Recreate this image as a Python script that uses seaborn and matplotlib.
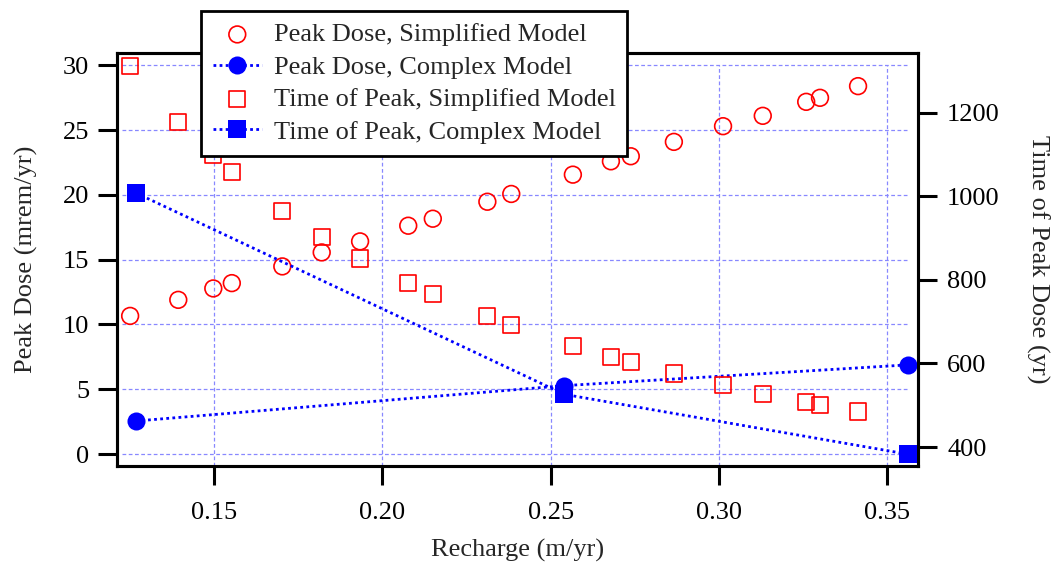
import numpy as np
import pandas as pd
import matplotlib
matplotlib.use("Agg")
import matplotlib.pyplot as plt
import seaborn as sns

# Recharge rates (m/yr) for the simplified-model runs
recharge_simple = [0.1251, 0.1394, 0.1498, 0.1553, 0.1703, 0.1820, 0.1934,
                   0.2077, 0.2150, 0.2312, 0.2383, 0.2566, 0.2679, 0.2738,
                   0.2866, 0.3012, 0.3130, 0.3259, 0.3300, 0.3413]
# Peak dose (mrem/yr), simplified model
dose_simple = [10.66, 11.90, 12.78, 13.19, 14.48, 15.56, 16.41,
               17.62, 18.16, 19.47, 20.07, 21.56, 22.59, 22.98,
               24.09, 25.30, 26.10, 27.18, 27.49, 28.39]
# Time of peak dose (yr), simplified model
time_simple = [1312, 1177, 1099, 1059, 965, 903, 851,
               792, 766, 713, 691, 642, 615, 603,
               576, 548, 527, 507, 500, 485]

# Complex-model runs
recharge_complex = [0.1268, 0.2541, 0.3560]
dose_complex = [2.55, 5.28, 6.88]
time_complex = [1008, 526, 383]

x_ticks = [0.15, 0.20, 0.25, 0.30, 0.35]
x_tick_labels = ["0.15", "0.20", "0.25", "0.30", "0.35"]
dose_ticks = [0, 5, 10, 15, 20, 25, 30]
time_ticks = [400, 600, 800, 1000, 1200]

simple = pd.DataFrame({"recharge": recharge_simple, "dose": dose_simple,
                       "time": time_simple})
complex_ = pd.DataFrame({"recharge": recharge_complex, "dose": dose_complex,
                         "time": time_complex})

sns.set_style("white")
plt.rcParams["font.family"] = ["Liberation Serif", "DejaVu Serif"]

RED = "#ff0000"
BLUE = "#0000ff"
GRID = "#8888ff"
FS = 19

fig = plt.figure(figsize=(10.56, 5.63), dpi=100)
ax = fig.add_axes([0.1108, 0.1728, 0.8693 - 0.1108, 0.905 - 0.1728])
ax2 = ax.twinx()

xlim = (0.1212, 0.3591)
ylim_dose = (-0.90, 30.91)
ylim_time = (355.3, 1341.7)

# grid spanning the data region
ax.hlines(dose_ticks, xlim[0] + 0.0015, max(recharge_complex), colors=GRID,
          linestyles=(0, (3, 2)), linewidth=0.9, zorder=0)
ax.vlines(x_ticks, ylim_dose[0], max(dose_ticks), colors=GRID,
          linestyles=(0, (3, 2)), linewidth=0.9, zorder=0)

dotted = (0, (1, 1.2))

sns.scatterplot(data=simple, x="recharge", y="dose", ax=ax, marker="o",
                s=145, facecolor="none", edgecolor=RED, linewidth=1.2,
                label="Peak Dose, Simplified Model", legend=False, zorder=3)
sns.lineplot(data=complex_, x="recharge", y="dose", ax=ax, color=BLUE,
             linestyle=dotted, linewidth=2.0, marker="o", markersize=13,
             markeredgewidth=0, label="Peak Dose, Complex Model",
             legend=False, zorder=4)
sns.scatterplot(data=simple, x="recharge", y="time", ax=ax2, marker="s",
                s=135, facecolor="none", edgecolor=RED, linewidth=1.2,
                label="Time of Peak, Simplified Model", legend=False, zorder=3)
sns.lineplot(data=complex_, x="recharge", y="time", ax=ax2, color=BLUE,
             linestyle=dotted, linewidth=2.0, marker="s", markersize=12.5,
             markeredgewidth=0, label="Time of Peak, Complex Model",
             legend=False, zorder=4)

for a in (ax, ax2):
    if a.get_legend() is not None:
        a.get_legend().remove()

ax.set_xlim(*xlim)
ax.set_ylim(*ylim_dose)
ax2.set_ylim(*ylim_time)

ax.set_xticks(x_ticks)
ax.set_xticklabels(x_tick_labels)
ax.set_yticks(dose_ticks)
ax2.set_yticks(time_ticks)

tick_kw = dict(direction="out", length=14, width=2.2, colors="black",
               labelsize=FS)
ax.tick_params(axis="x", bottom=True, top=False, pad=12, **tick_kw)
ax.tick_params(axis="y", left=True, right=False, pad=6, **tick_kw)
ax2.tick_params(axis="y", left=False, right=True, pad=7, **tick_kw)

for a in (ax, ax2):
    for sp in a.spines.values():
        sp.set_visible(True)
        sp.set_color("black")
        sp.set_linewidth(2.2)

ax.set_xlabel("Recharge (m/yr)", fontsize=FS, labelpad=11)
ax.set_ylabel("Peak Dose (mrem/yr)", fontsize=FS, labelpad=18)
ax2.set_ylabel("Time of Peak Dose (yr)", fontsize=FS, rotation=270,
               labelpad=36)

h1, l1 = ax.get_legend_handles_labels()
h2, l2 = ax2.get_legend_handles_labels()
leg = fig.legend(h1 + h2, l1 + l2, loc="upper left",
                 bbox_to_anchor=(201 / 1056, 1 - 11 / 563),
                 fontsize=FS, frameon=True, fancybox=False, shadow=False,
                 handlelength=1.85, handletextpad=0.45, labelspacing=0.34,
                 borderpad=0.45, borderaxespad=0.0, scatterpoints=1)
leg.get_frame().set_edgecolor("black")
leg.get_frame().set_linewidth(2.0)
leg.get_frame().set_facecolor("white")
leg.get_frame().set_alpha(1.0)
leg.set_zorder(10)

fig.savefig("out.png", dpi=100)
